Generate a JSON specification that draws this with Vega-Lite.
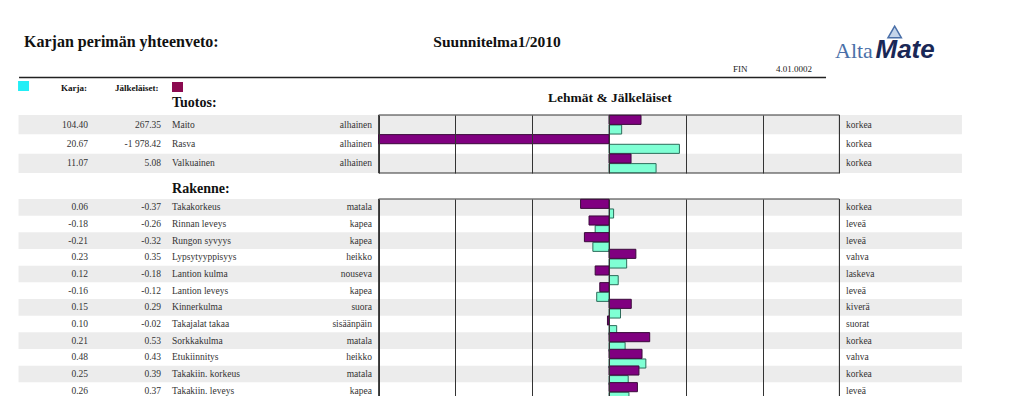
{
  "$schema": "https://vega.github.io/schema/vega-lite/v6.json",
  "padding": 0,
  "spacing": 0,
  "background": "white",
  "config": {
    "view": {"stroke": null},
    "locale": {"number": {"decimal": ".", "thousands": " ", "grouping": [3], "currency": ["", ""], "minus": "-"}},
    "text": {"font": "Liberation Serif", "color": "#222"},
    "axisX": {"labels": false, "ticks": false, "domain": false, "title": null, "grid": true, "gridColor": "#333", "gridOpacity": 1, "gridWidth": 1, "zindex": 1}
  },
  "datasets": {
    "tuotos": [
      {"trait": "Maito", "series": "Karja", "value": 104.40, "bar": 0.165, "low": "alhainen", "high": "korkea"},
      {"trait": "Maito", "series": "Jälkeläiset", "value": 267.35, "bar": 0.417, "low": "alhainen", "high": "korkea"},
      {"trait": "Rasva", "series": "Karja", "value": 20.67, "bar": 0.917, "low": "alhainen", "high": "korkea"},
      {"trait": "Rasva", "series": "Jälkeläiset", "value": -1978.42, "bar": -3, "low": "alhainen", "high": "korkea"},
      {"trait": "Valkuainen", "series": "Karja", "value": 11.07, "bar": 0.613, "low": "alhainen", "high": "korkea"},
      {"trait": "Valkuainen", "series": "Jälkeläiset", "value": 5.08, "bar": 0.287, "low": "alhainen", "high": "korkea"}
    ],
    "rakenne": [
      {"trait": "Takakorkeus", "series": "Karja", "value": 0.06, "bar": 0.06, "low": "matala", "high": "korkea"},
      {"trait": "Takakorkeus", "series": "Jälkeläiset", "value": -0.37, "bar": -0.37, "low": "matala", "high": "korkea"},
      {"trait": "Rinnan leveys", "series": "Karja", "value": -0.18, "bar": -0.18, "low": "kapea", "high": "leveä"},
      {"trait": "Rinnan leveys", "series": "Jälkeläiset", "value": -0.26, "bar": -0.26, "low": "kapea", "high": "leveä"},
      {"trait": "Rungon syvyys", "series": "Karja", "value": -0.21, "bar": -0.21, "low": "kapea", "high": "leveä"},
      {"trait": "Rungon syvyys", "series": "Jälkeläiset", "value": -0.32, "bar": -0.32, "low": "kapea", "high": "leveä"},
      {"trait": "Lypsytyyppisyys", "series": "Karja", "value": 0.23, "bar": 0.23, "low": "heikko", "high": "vahva"},
      {"trait": "Lypsytyyppisyys", "series": "Jälkeläiset", "value": 0.35, "bar": 0.35, "low": "heikko", "high": "vahva"},
      {"trait": "Lantion kulma", "series": "Karja", "value": 0.12, "bar": 0.12, "low": "nouseva", "high": "laskeva"},
      {"trait": "Lantion kulma", "series": "Jälkeläiset", "value": -0.18, "bar": -0.18, "low": "nouseva", "high": "laskeva"},
      {"trait": "Lantion leveys", "series": "Karja", "value": -0.16, "bar": -0.16, "low": "kapea", "high": "leveä"},
      {"trait": "Lantion leveys", "series": "Jälkeläiset", "value": -0.12, "bar": -0.12, "low": "kapea", "high": "leveä"},
      {"trait": "Kinnerkulma", "series": "Karja", "value": 0.15, "bar": 0.15, "low": "suora", "high": "kiverä"},
      {"trait": "Kinnerkulma", "series": "Jälkeläiset", "value": 0.29, "bar": 0.29, "low": "suora", "high": "kiverä"},
      {"trait": "Takajalat takaa", "series": "Karja", "value": 0.10, "bar": 0.10, "low": "sisäänpäin", "high": "suorat"},
      {"trait": "Takajalat takaa", "series": "Jälkeläiset", "value": -0.02, "bar": -0.02, "low": "sisäänpäin", "high": "suorat"},
      {"trait": "Sorkkakulma", "series": "Karja", "value": 0.21, "bar": 0.21, "low": "matala", "high": "korkea"},
      {"trait": "Sorkkakulma", "series": "Jälkeläiset", "value": 0.53, "bar": 0.53, "low": "matala", "high": "korkea"},
      {"trait": "Etukiinnitys", "series": "Karja", "value": 0.48, "bar": 0.48, "low": "heikko", "high": "vahva"},
      {"trait": "Etukiinnitys", "series": "Jälkeläiset", "value": 0.43, "bar": 0.43, "low": "heikko", "high": "vahva"},
      {"trait": "Takakiin. korkeus", "series": "Karja", "value": 0.25, "bar": 0.25, "low": "matala", "high": "korkea"},
      {"trait": "Takakiin. korkeus", "series": "Jälkeläiset", "value": 0.39, "bar": 0.39, "low": "matala", "high": "korkea"},
      {"trait": "Takakiin. leveys", "series": "Karja", "value": 0.26, "bar": 0.26, "low": "kapea", "high": "leveä"},
      {"trait": "Takakiin. leveys", "series": "Jälkeläiset", "value": 0.37, "bar": 0.37, "low": "kapea", "high": "leveä"}
    ]
  },
  "vconcat": [
    {
      "width": 1024,
      "height": 114,
      "data": {"values": [{}]},
      "layer": [
        {"mark": {"type": "text", "text": "Karjan perimän yhteenveto:", "align": "left", "baseline": "alphabetic", "fontSize": 16, "fontWeight": "bold", "color": "#111"},
         "encoding": {"x": {"datum": -7.617, "scale": {"domain": [-7.93, 5.404], "nice": false, "zero": false}, "axis": null}, "y": {"datum": 47, "scale": {"domain": [114, 0], "nice": false, "zero": false}, "axis": null}}},
        {"mark": {"type": "text", "text": "Suunnitelma1/2010", "align": "center", "baseline": "alphabetic", "fontSize": 15.5, "fontWeight": "bold", "color": "#111"},
         "encoding": {"x": {"datum": -1.458, "axis": null}, "y": {"datum": 47, "axis": null}}},
        {"mark": {"type": "text", "text": "FIN", "align": "left", "baseline": "alphabetic", "fontSize": 9, "color": "#222"},
         "encoding": {"x": {"datum": 1.615, "axis": null}, "y": {"datum": 72, "axis": null}}},
        {"mark": {"type": "text", "text": "4.01.0002", "align": "left", "baseline": "alphabetic", "fontSize": 9, "color": "#222"},
         "encoding": {"x": {"datum": 2.174, "axis": null}, "y": {"datum": 72, "axis": null}}},
        {"mark": {"type": "rule", "strokeWidth": 1.5, "color": "#222"},
         "encoding": {"x": {"datum": -7.682, "axis": null}, "x2": {"datum": 2.826}, "y": {"datum": 77.5, "axis": null}}},
        {"mark": {"type": "rect", "color": "#22eef6"},
         "encoding": {"x": {"datum": -7.695, "axis": null}, "x2": {"datum": -7.552}, "y": {"datum": 81, "axis": null}, "y2": {"datum": 91}}},
        {"mark": {"type": "text", "text": "Karja:", "align": "left", "baseline": "alphabetic", "fontSize": 9, "fontWeight": "bold", "color": "#111"},
         "encoding": {"x": {"datum": -7.135, "axis": null}, "y": {"datum": 90.5, "axis": null}}},
        {"mark": {"type": "text", "text": "Jälkeläiset:", "align": "left", "baseline": "alphabetic", "fontSize": 9, "fontWeight": "bold", "color": "#111"},
         "encoding": {"x": {"datum": -6.432, "axis": null}, "y": {"datum": 90.5, "axis": null}}},
        {"mark": {"type": "rect", "color": "#8b0a50"},
         "encoding": {"x": {"datum": -5.69, "axis": null}, "x2": {"datum": -5.547}, "y": {"datum": 82, "axis": null}, "y2": {"datum": 92}}},
        {"mark": {"type": "text", "text": "Tuotos:", "align": "left", "baseline": "alphabetic", "fontSize": 14, "fontWeight": "bold", "color": "#111"},
         "encoding": {"x": {"datum": -5.69, "axis": null}, "y": {"datum": 106.5, "axis": null}}},
        {"mark": {"type": "text", "text": "Lehmät & Jälkeläiset", "align": "center", "baseline": "alphabetic", "fontSize": 13.5, "fontWeight": "bold", "color": "#111"},
         "encoding": {"x": {"datum": 0.013, "axis": null}, "y": {"datum": 102, "axis": null}}},
        {"mark": {"type": "text", "text": "Alta", "align": "left", "baseline": "alphabetic", "fontSize": 22, "color": "#4a6fa8", "font": "Liberation Serif"},
         "encoding": {"x": {"datum": 2.943, "axis": null}, "y": {"datum": 58, "axis": null}}},
        {"mark": {"type": "text", "text": "Mate", "align": "left", "baseline": "alphabetic", "fontSize": 26, "fontWeight": "bold", "fontStyle": "italic", "color": "#1a2856", "font": "Liberation Sans"},
         "encoding": {"x": {"datum": 3.47, "axis": null}, "y": {"datum": 58, "axis": null}}},
        {"mark": {"type": "point", "shape": "triangle-up", "size": 180, "filled": true, "fill": "#c4d4ea", "stroke": "#4a6fa8", "strokeWidth": 1.5, "opacity": 1},
         "encoding": {"x": {"datum": 3.72, "axis": null}, "y": {"datum": 32, "axis": null}}}
      ]
    },
    {
      "width": 1024,
      "height": 58,
      "data": {"name": "tuotos"},
      "layer": [
        {"transform": [{"filter": {"and": [{"field": "series", "equal": "Karja"}, {"field": "trait", "oneOf": ["Maito", "Valkuainen"]}]}}],
         "mark": {"type": "rect", "color": "#ececec"},
         "encoding": {"x": {"datum": -7.689, "scale": {"domain": [-7.93, 5.404], "nice": false, "zero": false}}, "x2": {"datum": 4.596},
           "y": {"field": "trait", "type": "nominal", "scale": {"domain": ["Maito", "Rasva", "Valkuainen"], "paddingInner": 0, "paddingOuter": 0}, "axis": null}}},
        {"data": {"values": [{}]},
         "mark": {"type": "rect", "fillOpacity": 0, "stroke": "#333", "strokeWidth": 1},
         "encoding": {"x": {"datum": -3}, "x2": {"datum": 3}}},
        {"mark": {"type": "bar", "strokeWidth": 1},
         "encoding": {
           "x": {"field": "bar", "type": "quantitative", "axis": {"values": [-3, -2, -1, 0, 1, 2, 3], "zindex": 1, "grid": true, "gridColor": "#333", "gridOpacity": 1}},
           "x2": {"datum": 0},
           "y": {"field": "trait", "type": "nominal", "axis": null},
           "yOffset": {"field": "series", "type": "nominal", "scale": {"domain": ["Jälkeläiset", "Karja"], "paddingInner": 0.06, "paddingOuter": 0.03}},
           "fill": {"field": "series", "type": "nominal", "scale": {"domain": ["Jälkeläiset", "Karja"], "range": ["#800080", "#7fffd4"]}, "legend": null},
           "stroke": {"field": "series", "type": "nominal", "scale": {"domain": ["Jälkeläiset", "Karja"], "range": ["#3a0a3a", "#2d6b5a"]}, "legend": null}}},
        {"transform": [{"filter": {"field": "series", "equal": "Karja"}}],
         "mark": {"type": "text", "align": "right", "baseline": "middle", "fontSize": 9.5, "color": "#333"},
         "encoding": {"x": {"datum": -6.784}, "y": {"field": "trait", "type": "nominal", "axis": null}, "text": {"field": "value", "type": "quantitative", "format": ",.2f"}}},
        {"transform": [{"filter": {"field": "series", "equal": "Jälkeläiset"}}],
         "mark": {"type": "text", "align": "right", "baseline": "middle", "fontSize": 9.5, "color": "#333"},
         "encoding": {"x": {"datum": -5.833}, "y": {"field": "trait", "type": "nominal", "axis": null}, "text": {"field": "value", "type": "quantitative", "format": ",.2f"}}},
        {"transform": [{"filter": {"field": "series", "equal": "Karja"}}],
         "mark": {"type": "text", "align": "left", "baseline": "middle", "fontSize": 9.5, "color": "#333"},
         "encoding": {"x": {"datum": -5.69}, "y": {"field": "trait", "type": "nominal", "axis": null}, "text": {"field": "trait"}}},
        {"transform": [{"filter": {"field": "series", "equal": "Karja"}}],
         "mark": {"type": "text", "align": "right", "baseline": "middle", "fontSize": 9.5, "color": "#333"},
         "encoding": {"x": {"datum": -3.086}, "y": {"field": "trait", "type": "nominal", "axis": null}, "text": {"field": "low"}}},
        {"transform": [{"filter": {"field": "series", "equal": "Karja"}}],
         "mark": {"type": "text", "align": "left", "baseline": "middle", "fontSize": 9.5, "color": "#333"},
         "encoding": {"x": {"datum": 3.086}, "y": {"field": "trait", "type": "nominal", "axis": null}, "text": {"field": "high"}}}
      ]
    },
    {
      "width": 1024,
      "height": 24,
      "data": {"values": [{}]},
      "layer": [
        {"mark": {"type": "text", "text": "Rakenne:", "align": "left", "baseline": "alphabetic", "fontSize": 14, "fontWeight": "bold", "color": "#111"},
         "encoding": {"x": {"datum": -5.69, "scale": {"domain": [-7.93, 5.404], "nice": false, "zero": false}, "axis": null}, "y": {"datum": 19, "scale": {"domain": [24, 0], "nice": false, "zero": false}, "axis": null}}}
      ]
    },
    {
      "width": 1024,
      "height": 200,
      "data": {"name": "rakenne"},
      "layer": [
        {"transform": [{"filter": {"and": [{"field": "series", "equal": "Karja"}, {"field": "trait", "oneOf": ["Takakorkeus", "Rungon syvyys", "Lantion kulma", "Kinnerkulma", "Sorkkakulma", "Takakiin. korkeus"]}]}}],
         "mark": {"type": "rect", "color": "#ececec"},
         "encoding": {"x": {"datum": -7.689, "scale": {"domain": [-7.93, 5.404], "nice": false, "zero": false}}, "x2": {"datum": 4.596},
           "y": {"field": "trait", "type": "nominal", "scale": {"domain": ["Takakorkeus", "Rinnan leveys", "Rungon syvyys", "Lypsytyyppisyys", "Lantion kulma", "Lantion leveys", "Kinnerkulma", "Takajalat takaa", "Sorkkakulma", "Etukiinnitys", "Takakiin. korkeus", "Takakiin. leveys"], "paddingInner": 0, "paddingOuter": 0}, "axis": null}}},
        {"data": {"values": [{}]},
         "mark": {"type": "rect", "fillOpacity": 0, "stroke": "#333", "strokeWidth": 1},
         "encoding": {"x": {"datum": -3}, "x2": {"datum": 3}}},
        {"mark": {"type": "bar", "strokeWidth": 1},
         "encoding": {
           "x": {"field": "bar", "type": "quantitative", "axis": {"values": [-3, -2, -1, 0, 1, 2, 3], "zindex": 1, "grid": true, "gridColor": "#333", "gridOpacity": 1}},
           "x2": {"datum": 0},
           "y": {"field": "trait", "type": "nominal", "axis": null},
           "yOffset": {"field": "series", "type": "nominal", "scale": {"domain": ["Jälkeläiset", "Karja"], "paddingInner": 0.06, "paddingOuter": 0.03}},
           "fill": {"field": "series", "type": "nominal", "scale": {"domain": ["Jälkeläiset", "Karja"], "range": ["#800080", "#7fffd4"]}, "legend": null},
           "stroke": {"field": "series", "type": "nominal", "scale": {"domain": ["Jälkeläiset", "Karja"], "range": ["#3a0a3a", "#2d6b5a"]}, "legend": null}}},
        {"transform": [{"filter": {"field": "series", "equal": "Karja"}}],
         "mark": {"type": "text", "align": "right", "baseline": "middle", "fontSize": 9.5, "color": "#333"},
         "encoding": {"x": {"datum": -6.784}, "y": {"field": "trait", "type": "nominal", "axis": null}, "text": {"field": "value", "type": "quantitative", "format": ",.2f"}}},
        {"transform": [{"filter": {"field": "series", "equal": "Jälkeläiset"}}],
         "mark": {"type": "text", "align": "right", "baseline": "middle", "fontSize": 9.5, "color": "#333"},
         "encoding": {"x": {"datum": -5.833}, "y": {"field": "trait", "type": "nominal", "axis": null}, "text": {"field": "value", "type": "quantitative", "format": ",.2f"}}},
        {"transform": [{"filter": {"field": "series", "equal": "Karja"}}],
         "mark": {"type": "text", "align": "left", "baseline": "middle", "fontSize": 9.5, "color": "#333"},
         "encoding": {"x": {"datum": -5.69}, "y": {"field": "trait", "type": "nominal", "axis": null}, "text": {"field": "trait"}}},
        {"transform": [{"filter": {"field": "series", "equal": "Karja"}}],
         "mark": {"type": "text", "align": "right", "baseline": "middle", "fontSize": 9.5, "color": "#333"},
         "encoding": {"x": {"datum": -3.086}, "y": {"field": "trait", "type": "nominal", "axis": null}, "text": {"field": "low"}}},
        {"transform": [{"filter": {"field": "series", "equal": "Karja"}}],
         "mark": {"type": "text", "align": "left", "baseline": "middle", "fontSize": 9.5, "color": "#333"},
         "encoding": {"x": {"datum": 3.086}, "y": {"field": "trait", "type": "nominal", "axis": null}, "text": {"field": "high"}}}
      ]
    }
  ]
}
